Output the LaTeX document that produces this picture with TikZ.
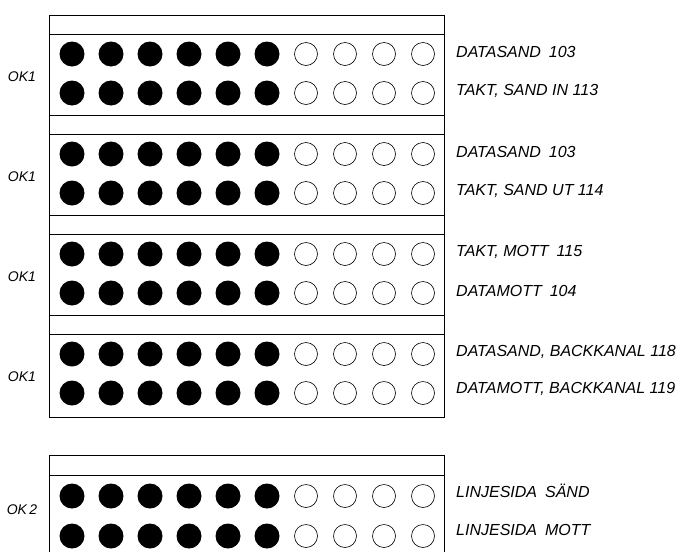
\documentclass[tikz,border=0pt]{standalone}
\usepackage{fontspec}
\setmainfont{Liberation Sans}

\begin{document}
\begin{tikzpicture}[x=1pt, y=-1pt,
    lab/.style={anchor=west, inner sep=0pt, font=\itshape\fontsize{16}{18}\selectfont},
    oklab/.style={inner sep=0pt, font=\itshape\fontsize{14}{16}\selectfont},
    hole/.style={line width=0.6pt}]
    \useasboundingbox (0, 0) rectangle (688, 552);

    % upper panel, four groups
    \draw[line width=1pt] (49, 15) rectangle (444, 417);
    \foreach \t in {15, 115, 215, 315} {
      \draw[line width=1pt] (49, \t) -- (444, \t);
      \draw[line width=1pt] (49, \t+19) -- (444, \t+19);
      \foreach \r in {39, 78} {
        \foreach \i in {0, ..., 5}
          \fill (72+39*\i, \t+\r) circle (12.5pt);
        \foreach \i in {6, ..., 9}
          \draw[hole] (72+39*\i, \t+\r) circle (11.5pt);
      }
      \draw (22, \t+62) node[oklab] {OK1};
    }

    % lower panel
    \draw[line width=1pt] (49, 552) -- (49, 455) -- (444, 455) -- (444, 552);
    \draw[line width=1pt] (49, 475) -- (444, 475);
    \foreach \y in {496, 536} {
      \foreach \i in {0, ..., 5}
        \fill (72+39*\i, \y) circle (12.5pt);
      \foreach \i in {6, ..., 9}
        \draw[hole] (72+39*\i, \y) circle (11.5pt);
    }
    \draw (22, 510) node[oklab] (ok2) {OK\,2};

    \draw (456, 52) node[lab] (a1) {DATASAND\enspace 103};
    \draw (456, 91) node[lab] (a2) {TAKT, SAND IN 113};
    \draw (456, 152) node[lab] (b1) {DATASAND\enspace 103};
    \draw (456, 191) node[lab] (b2) {TAKT, SAND UT 114};
    \draw (456, 252) node[lab] (c1) {TAKT, MOTT\enspace 115};
    \draw (456, 291) node[lab] (c2) {DATAMOTT\enspace 104};
    \draw (456, 352) node[lab] (d1) {DATASAND, BACKKANAL 118};
    \draw (456, 389) node[lab] (d2) {DATAMOTT, BACKKANAL 119};
    \draw (456, 491) node[lab] (e1) {LINJESIDA\enspace SÄND};
    \draw (456, 530) node[lab] (e2) {LINJESIDA\enspace MOTT};
  \end{tikzpicture}
\end{document}
